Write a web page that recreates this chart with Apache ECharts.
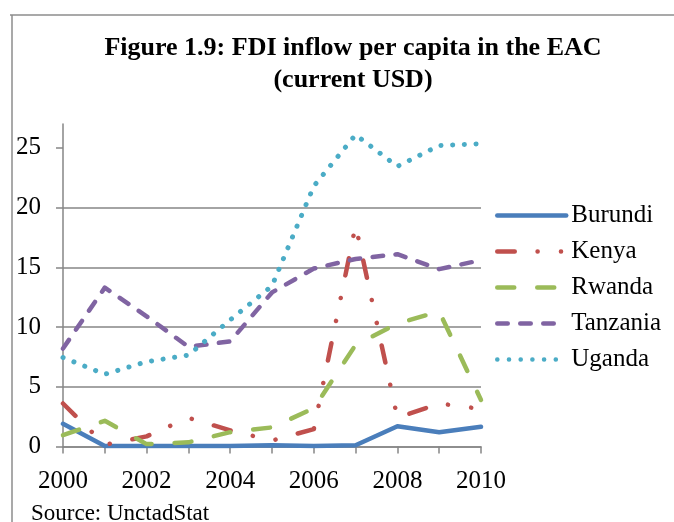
<!DOCTYPE html>
<html>
<head>
<meta charset="utf-8">
<script src="https://cdn.jsdelivr.net/npm/echarts@6/dist/echarts.min.js"></script>
<style>
  html, body { margin: 0; padding: 0; background: #fff; }
  #chart { width: 674px; height: 522px; }
</style>
</head>
<body>
<div id="chart"></div>
<script>
// values (current USD per head)
const years = ['2000', '2001', '2002', '2003', '2004', '2005', '2006', '2007', '2008', '2009', '2010'];
const burundi = [1.9, 0.05, 0.05, 0.05, 0.05, 0.1, 0.05, 0.1, 1.7, 1.2, 1.65];
const kenya = [3.6, 0.15, 0.85, 2.4, 1.35, 0.5, 1.45, 18.5, 2.4, 3.6, 3.15];
const rwanda = [0.95, 2.15, 0.2, 0.35, 1.2, 1.6, 3.2, 8.5, 10.3, 11.3, 3.9];
const tanzania = [8.2, 13.3, 10.9, 8.35, 8.8, 12.9, 14.9, 15.7, 16.1, 14.85, 15.6];
const uganda = [7.45, 6.05, 7.1, 7.65, 10.6, 13.45, 21.8, 26.1, 23.45, 25.2, 25.35];
const yTicks = [0, 5, 10, 15, 20, 25];

const serif = "'Liberation Serif', 'Times New Roman', serif";
const axisGray = '#868686';

const chart = echarts.init(document.getElementById('chart'));

function lineSeries(name, data, color, dash, width) {
  return {
    name: name,
    type: 'line',
    data: data,
    symbol: 'none',
    smooth: false,
    color: color,
    lineStyle: {
      width: width || 4.5,
      color: color,
      type: dash,
      cap: 'round',
      join: 'round',
    },
  };
}

const option = {
  animation: false,
  title: {
    text: 'Figure 1.9: FDI inflow per capita in the EAC\n(current USD)',
    left: 348,
    textAlign: 'center',
    top: 27,
    textStyle: {
      fontFamily: serif,
      fontWeight: 'bold',
      fontSize: 26,
      lineHeight: 32,
      color: '#000',
    },
  },
  legend: {
    orient: 'vertical',
    left: 490,
    top: 198,
    itemWidth: 69,
    itemHeight: 25,
    itemGap: 11,
    itemStyle: { opacity: 0 },
    lineStyle: { width: 4.5, cap: 'round' },
    textStyle: {
      fontFamily: serif,
      fontSize: 25,
      color: '#000',
    },
    data: ['Burundi', 'Kenya', 'Rwanda', 'Tanzania', 'Uganda'],
  },
  grid: {
    left: 63,
    right: 193,
    top: 124,
    bottom: 75.5,
  },
  xAxis: {
    type: 'category',
    boundaryGap: false,
    data: years,
    axisLine: { lineStyle: { color: axisGray, width: 1.5 } },
    axisTick: { show: true, interval: 0, length: 7, lineStyle: { color: axisGray, width: 1.5 } },
    axisLabel: {
      interval: 1,
      margin: 22,
      fontFamily: serif,
      fontSize: 25,
      color: '#000',
    },
    splitLine: { show: false },
  },
  yAxis: {
    type: 'value',
    min: 0,
    max: 27,
    interval: 5,
    axisLine: { show: true, lineStyle: { color: axisGray, width: 1.5 } },
    axisTick: { show: true, length: 7, customValues: yTicks, lineStyle: { color: axisGray, width: 1.5 } },
    axisLabel: {
      showMaxLabel: false,
      margin: 22,
      fontFamily: serif,
      fontSize: 25,
      color: '#000',
    },
    splitLine: {
      show: true,
      showMaxLine: false,
      lineStyle: { color: axisGray, width: 1.5 },
    },
  },
  graphic: [
    // frame of the figure box
    { type: 'line', shape: { x1: 10, y1: 15, x2: 674, y2: 15 }, style: { stroke: '#8c8c8c', lineWidth: 1.5 } },
    { type: 'line', shape: { x1: 12, y1: 15, x2: 12, y2: 522 }, style: { stroke: '#8c8c8c', lineWidth: 1.5 } },
    {
      type: 'text',
      left: 31,
      top: 502,
      style: { text: 'Source: UnctadStat', font: "23px 'Liberation Serif', serif", fill: '#000' },
    },
  ],
  series: [
    lineSeries('Burundi', burundi, '#4a7ebb', 'solid'),
    lineSeries('Kenya', kenya, '#c0504d', [17.5, 22.8, 0.1, 23.3, 0.1, 23]),
    lineSeries('Rwanda', rwanda, '#9bbb59', [17, 23]),
    lineSeries('Tanzania', tanzania, '#8064a2', [10.5, 12.5]),
    lineSeries('Uganda', uganda, '#4bacc6', [0.1, 11.6], 5),
  ],
};

chart.setOption(option);
</script>
</body>
</html>
